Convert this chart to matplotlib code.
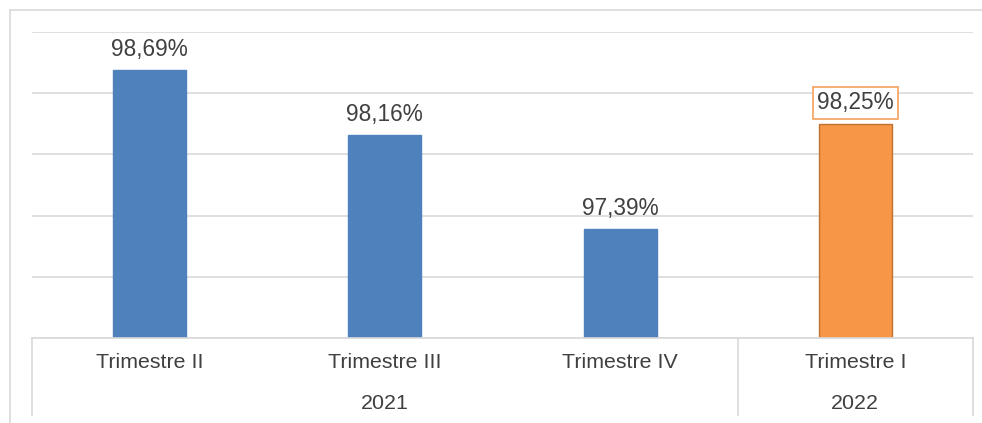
import matplotlib
matplotlib.use("Agg")
import matplotlib.pyplot as plt
from matplotlib.lines import Line2D

categories = ["Trimestre II", "Trimestre III", "Trimestre IV", "Trimestre I"]
values = [98.69, 98.16, 97.39, 98.25]
labels = ["98,69%", "98,16%", "97,39%", "98,25%"]
years = ["2021", "2022"]
year_groups = [[0, 1, 2], [3]]

plt.rcParams['font.family'] = ['Liberation Sans', 'DejaVu Sans']

W, H = 982, 423
fig = plt.figure(figsize=(W / 100, H / 100), dpi=100)
fig.patch.set_facecolor("white")

def fx(px):
    return px / W

def fy(py):
    return 1 - py / H

# outer chart border (top and left visible)
fig.add_artist(Line2D([fx(10), fx(10)], [fy(10), fy(423)], color="#d9d9d9", lw=1.2))
fig.add_artist(Line2D([fx(10), fx(982)], [fy(10), fy(10)], color="#d9d9d9", lw=1.2))

left, right, top, base = 32, 973, 32, 338
ax = fig.add_axes([fx(left), fy(base), fx(right - left), (base - top) / H])
ax.set_xlim(-0.5, 3.5)
ax.set_ylim(96.5, 99.0)
for s in ax.spines.values():
    s.set_visible(False)
ax.set_yticks([96.5, 97.0, 97.5, 98.0, 98.5, 99.0])
ax.tick_params(axis="y", left=False, labelleft=False)
ax.grid(axis="y", color="#d9d9d9", lw=1.2)
ax.set_axisbelow(True)
ax.set_xticks([])

colors = ["#4f81bd", "#4f81bd", "#4f81bd", "#f79646"]
edges = ["#4f81bd", "#4f81bd", "#4f81bd", "#c0722f"]
x = list(range(len(values)))
ax.bar(x, [v - 96.5 for v in values], bottom=96.5, width=0.31,
       color=colors, edgecolor=edges, linewidth=1.0, zorder=3)

for i, (v, lab) in enumerate(zip(values, labels)):
    kw = {}
    if i == 3:
        kw["bbox"] = dict(boxstyle="square,pad=0.2", facecolor="white",
                          edgecolor="#f4a86a", lw=1.3)
    ax.annotate(lab, (i, v), xytext=(0, 14.5 if i != 3 else 15),
                textcoords="offset points", ha="center", va="center",
                fontsize=16.3, color="#404040", **kw)

# category axis lines
tr = ax.get_xaxis_transform()
low = -(415 - base) / (base - top)
ax.plot([-0.5, 3.5], [0, 0], transform=tr, color="#d9d9d9", lw=1.2, clip_on=False, zorder=4)
for xb in [-0.5, 2.5, 3.5]:
    ax.plot([xb, xb], [0, low], transform=tr, color="#d9d9d9", lw=1.2, clip_on=False)

ylab = -(362 - base) / (base - top)
yyear = -(403 - base) / (base - top)
for i, c in enumerate(categories):
    ax.text(i, ylab, c, transform=tr, ha="center", va="center",
            fontsize=15.4, color="#404040")
for yr, grp in zip(years, year_groups):
    ax.text(sum(grp) / len(grp), yyear, yr, transform=tr, ha="center",
            va="center", fontsize=15.4, color="#404040")

fig.savefig("out.png", dpi=100)
